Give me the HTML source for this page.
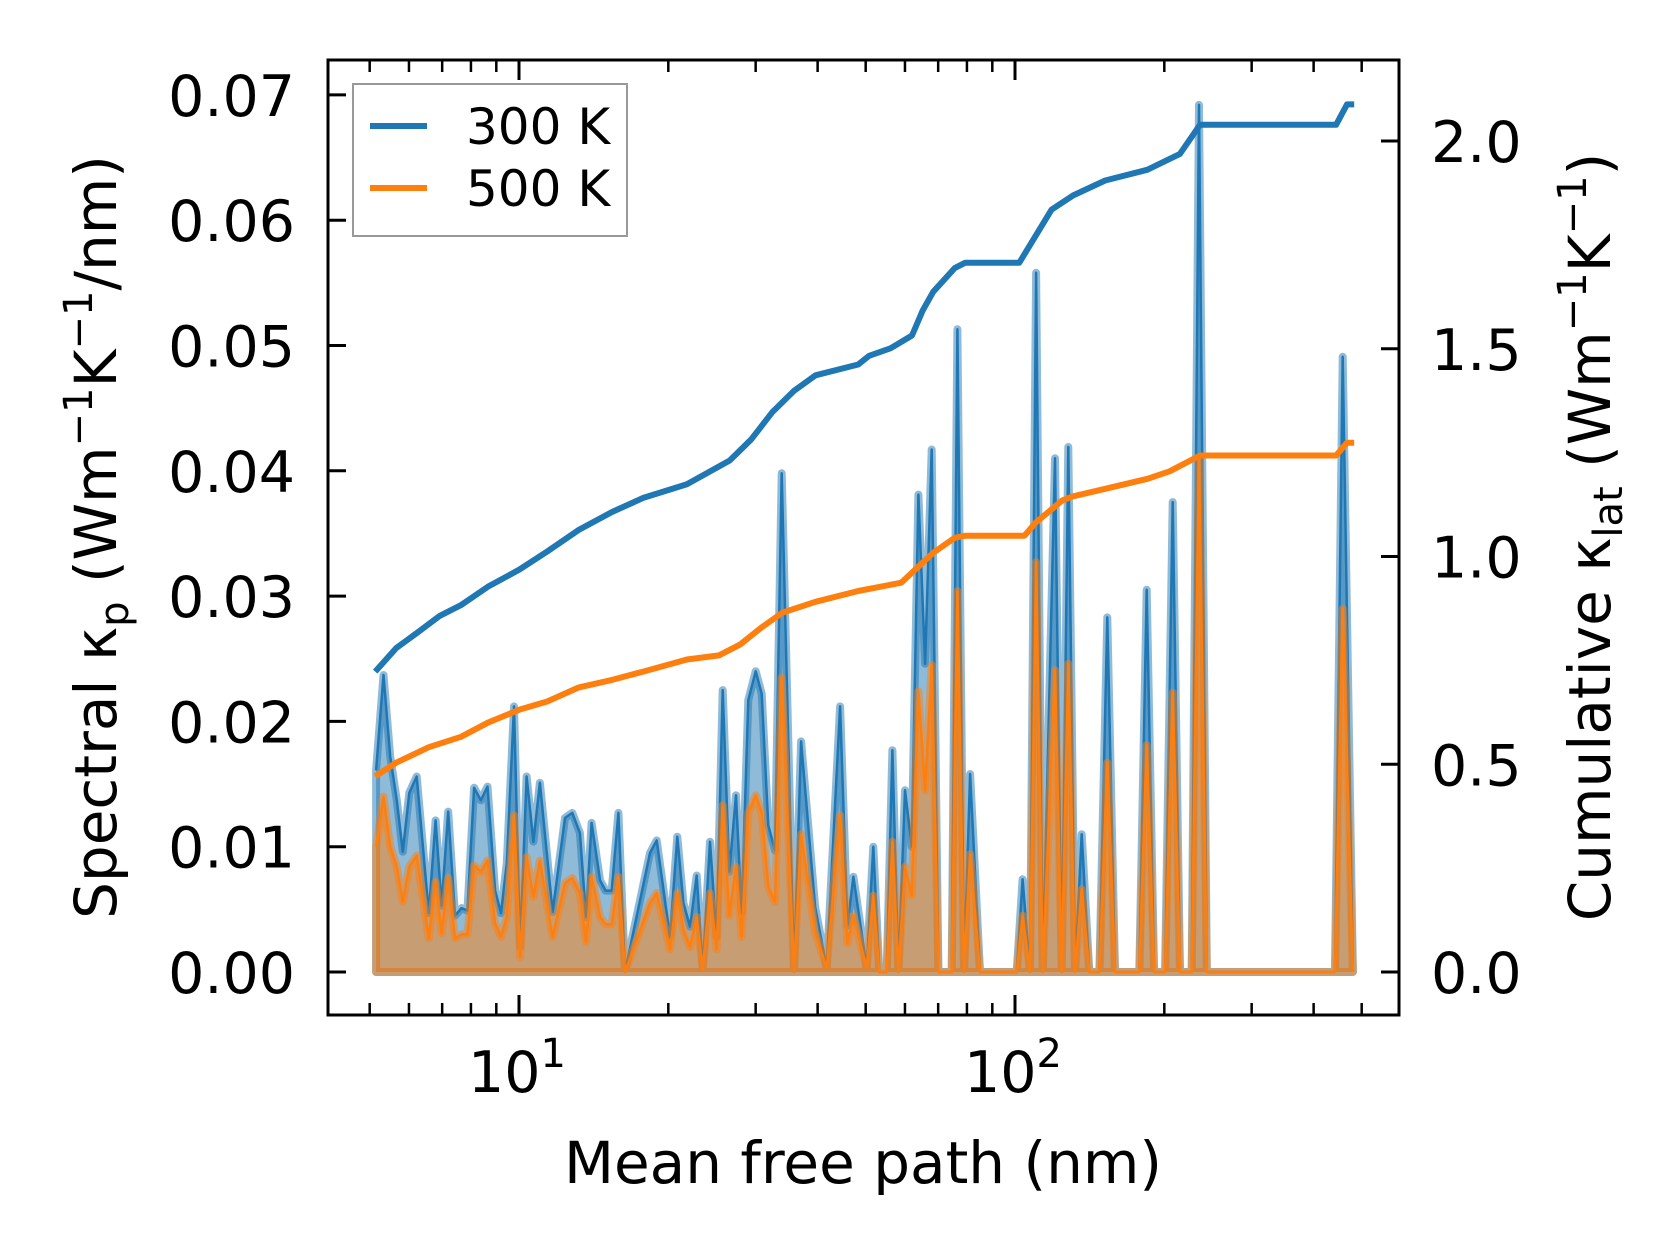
<!DOCTYPE html>
<html><head><meta charset="utf-8"><style>
html,body{margin:0;padding:0;background:#fff}
svg{display:block;font-family:"DejaVu Sans","Liberation Sans",sans-serif}
</style></head><body>
<svg id="chart" width="1679" height="1254" viewBox="0 0 1679 1254" xmlns="http://www.w3.org/2000/svg">
<rect width="1679" height="1254" fill="#fff"/>
<g id="plot"></g>
<g id="axes"></g>
</svg>
<script>
// ---- data ----
const specMfp = [5.15,5.33,5.50,5.67,5.83,6.01,6.22,6.58,6.79,6.98,7.20,7.43,7.66,7.87,8.12,8.38,8.64,8.95,9.20,9.45,9.77,10.05,10.36,10.69,11.02,11.69,12.38,12.81,13.27,13.65,14.01,14.57,14.95,15.38,15.86,16.36,18.37,18.95,20.16,20.85,21.45,22.13,22.82,23.46,24.27,25.03,25.74,26.55,27.38,28.11,29.00,30.00,30.85,31.82,32.82,33.85,35.85,37.04,39.54,41.73,44.39,45.92,47.22,50.23,51.81,53.27,55.12,56.59,58.19,60.02,61.91,63.86,65.87,67.93,70.08,74.55,76.53,78.93,81.18,85.0,100.8,103.6,107.2,110.3,113.7,120.4,124.2,128.1,132.1,136.3,141.2,148.0,153.5,159.1,178.1,184.3,190.7,200.7,207.9,215.1,227.1,235.0,243.6,441.8,457.9,480];
const spec300 = [0.0161,0.0237,0.0172,0.0137,0.0096,0.0143,0.0156,0.0047,0.0121,0.0053,0.0128,0.0045,0.0051,0.0049,0.0147,0.0137,0.0148,0.0065,0.0047,0.0087,0.0212,0.0020,0.0156,0.0104,0.0151,0.0048,0.0123,0.0127,0.0111,0.0044,0.0119,0.0073,0.0065,0.0065,0.0127,0.0,0.0095,0.0105,0.0028,0.0108,0.0055,0.0036,0.0077,0.0002,0.0104,0.0028,0.0225,0.0080,0.0141,0.0047,0.0217,0.0240,0.0222,0.0117,0.0097,0.0398,0.0,0.0184,0.0052,0.0003,0.0212,0.0037,0.0076,0.0003,0.0100,0.0,0.0,0.0177,0.0,0.0145,0.0100,0.0381,0.0246,0.0417,0.0,0.0,0.0513,0.0,0.0158,0.0,0.0,0.0074,0.0,0.0558,0.0,0.0410,0.0,0.0419,0.0,0.0110,0.0,0.0,0.0283,0.0,0.0,0.0305,0.0,0.0,0.0375,0.0,0.0,0.0692,0.0,0.0,0.0491,0.0];
const spec500 = [0.0100,0.0140,0.0100,0.0084,0.0056,0.0084,0.0093,0.0027,0.0072,0.0031,0.0075,0.0027,0.0030,0.0030,0.0085,0.0080,0.0089,0.0039,0.0028,0.0044,0.0125,0.0012,0.0092,0.0060,0.0089,0.0028,0.0071,0.0075,0.0063,0.0024,0.0076,0.0044,0.0038,0.0038,0.0076,0.0,0.0055,0.0063,0.0018,0.0063,0.0034,0.0020,0.0044,0.0002,0.0063,0.0018,0.0133,0.0045,0.0084,0.0028,0.0127,0.0141,0.0127,0.0068,0.0056,0.0235,0.0,0.0110,0.0032,0.0003,0.0125,0.0023,0.0045,0.0003,0.0061,0.0,0.0,0.0104,0.0,0.0084,0.0061,0.0224,0.0145,0.0245,0.0,0.0,0.0304,0.0,0.0094,0.0,0.0,0.0045,0.0,0.0327,0.0,0.0241,0.0,0.0246,0.0,0.0066,0.0,0.0,0.0167,0.0,0.0,0.0181,0.0,0.0,0.0223,0.0,0.0,0.0410,0.0,0.0,0.0290,0.0];
const cumMfp300 = [5.13,5.66,6.26,6.92,7.64,8.65,10,11.4,13.2,15.4,17.8,21.8,26.6,29.4,32.4,35.8,39.6,48.3,50.8,56.1,62.0,65.1,68.4,75.6,79.4,102,110,118.5,131,152,185,215,236,444,467,483];
const cum300 = [0.723,0.780,0.818,0.857,0.883,0.927,0.968,1.012,1.064,1.107,1.141,1.174,1.231,1.282,1.347,1.398,1.436,1.462,1.483,1.501,1.532,1.591,1.637,1.694,1.707,1.707,1.771,1.835,1.869,1.905,1.931,1.969,2.039,2.039,2.088,2.088];
const cumMfp500 = [5.13,5.66,6.58,7.64,8.65,10,11.4,13.2,15.4,17.8,21.8,25.3,27.9,30.8,34.0,39.6,48.3,59.0,63.5,68.4,75.6,79.4,104.5,110,124.5,131,152,185,205,236,444,467,483];
const cum500 = [0.471,0.504,0.541,0.566,0.600,0.631,0.651,0.685,0.703,0.723,0.752,0.762,0.788,0.829,0.865,0.891,0.917,0.937,0.973,1.009,1.045,1.050,1.050,1.081,1.135,1.145,1.163,1.187,1.205,1.243,1.243,1.274,1.274];
const leftTicks = [0,0.01,0.02,0.03,0.04,0.05,0.06,0.07];
const leftTickLabels = ["0.00","0.01","0.02","0.03","0.04","0.05","0.06","0.07"];
const rightTicks = [0,0.5,1.0,1.5,2.0];
const rightTickLabels = ["0.0","0.5","1.0","1.5","2.0"];
const xMajor = [10,100];
const xMinor = [5,6,7,8,9,20,30,40,50,60,70,80,90,200,300,400,500];

// ---- axes functions ----
const L=328,R=1399,T=60,B=1015;
const X = v => 519 + 496*(Math.log10(v)-1);
const YL = v => 972 - v*12530;
const YR = v => 972 - v*415.5;
const NS="http://www.w3.org/2000/svg";
function mk(tag, attrs, parent){const e=document.createElementNS(NS,tag);for(const k in attrs)e.setAttribute(k,attrs[k]);parent.appendChild(e);return e;}
const plot=document.getElementById('plot'), axes=document.getElementById('axes');

function spectral(vals, color, name){
  let pts=specMfp.map((m,i)=>X(m).toFixed(1)+','+YL(vals[i]).toFixed(1));
  const poly=X(specMfp[0]).toFixed(1)+','+YL(0)+' '+pts.join(' ')+' '+X(specMfp[specMfp.length-1]).toFixed(1)+','+YL(0);
  const f=mk('polygon',{points:poly,fill:color,'fill-opacity':0.5,stroke:color,'stroke-opacity':0.5,'stroke-width':8,'stroke-linejoin':'round'},plot);
  
  
  const l=mk('polyline',{points:pts.join(' '),fill:'none',stroke:color,'stroke-width':2.5,'stroke-linejoin':'round'},plot);
  
  
}
spectral(spec300,'#1f77b4','spectral-300k');
spectral(spec500,'#ff7f0e','spectral-500k');

function cum(mfp, vals, color, name){
  const pts=mfp.map((m,i)=>X(m).toFixed(1)+','+YR(vals[i]).toFixed(1)).join(' ');
  const l=mk('polyline',{points:pts,fill:'none',stroke:color,'stroke-width':6,'stroke-linejoin':'round'},plot);
  
  
}
cum(cumMfp300,cum300,'#1f77b4','cumulative-300k-line');
cum(cumMfp500,cum500,'#ff7f0e','cumulative-500k-line');

// frame
const fr=mk('rect',{x:L,y:T,width:R-L,height:B-T,fill:'none',stroke:'#000','stroke-width':3},axes);


// ticks
leftTicks.forEach((v,i)=>{
  const y=YL(v);
  const t=mk('line',{x1:L,x2:L+18,y1:y,y2:y,stroke:'#000','stroke-width':3},axes);
  
  
  const tx=mk('text',{x:L-33,y:y+21,'font-size':57,'text-anchor':'end',fill:'#000'},axes);
  tx.textContent=leftTickLabels[i];
  
  
});
rightTicks.forEach((v,i)=>{
  const y=YR(v);
  const t=mk('line',{x1:R-18,x2:R,y1:y,y2:y,stroke:'#000','stroke-width':3},axes);
  
  
  const tx=mk('text',{x:R+32,y:y+21,'font-size':57,'text-anchor':'start',fill:'#000'},axes);
  tx.textContent=rightTickLabels[i];
  
  
});
xMajor.forEach((v,i)=>{
  const x=X(v);
  [[B,B-20],[T,T+20]].forEach(p=>{
    const t=mk('line',{x1:x,x2:x,y1:p[0],y2:p[1],stroke:'#000','stroke-width':3},axes);
    
    
  });
  const tx=mk('text',{x:x-2,y:1092,'font-size':57,'text-anchor':'middle',fill:'#000'},axes);
  
  
  const a=mk('tspan',{},tx); a.textContent='10';
  const b=mk('tspan',{dy:-25,'font-size':40},tx); b.textContent=String(Math.round(Math.log10(v)));
});
xMinor.forEach(v=>{
  const x=X(v);
  [[B,B-12],[T,T+12]].forEach(p=>{
    const t=mk('line',{x1:x,x2:x,y1:p[0],y2:p[1],stroke:'#000','stroke-width':2.5},axes);
    
    
  });
});
</script>
<svg style="position:absolute;left:0;top:0" width="1679" height="1254" xmlns="http://www.w3.org/2000/svg" font-family="DejaVu Sans, Liberation Sans, sans-serif">
  <text x="863" y="1183" font-size="58" text-anchor="middle">Mean free path (nm)</text>
  <text transform="translate(116,537) rotate(-90)" font-size="58" text-anchor="middle">Spectral κ<tspan font-size="40" dy="12">p</tspan><tspan dy="-12"> (Wm</tspan><tspan font-size="40" dy="-24">−1</tspan><tspan dy="24">K</tspan><tspan font-size="40" dy="-24">−1</tspan><tspan dy="24">/nm)</tspan></text>
  <text transform="translate(1610,537) rotate(-90)" font-size="58" text-anchor="middle">Cumulative κ<tspan font-size="40" dy="12">lat</tspan><tspan dy="-12"> (Wm</tspan><tspan font-size="40" dy="-24">−1</tspan><tspan dy="24">K</tspan><tspan font-size="40" dy="-24">−1</tspan><tspan dy="24">)</tspan></text>
  <g>
    <rect x="353" y="84" width="274" height="152" fill="#fff" fill-opacity="0.8" stroke="#999" stroke-width="2"/>
    <line x1="370" x2="427" y1="126" y2="126" stroke="#1f77b4" stroke-width="6"/>
    <text x="466" y="144" font-size="50">300 K</text>
    <line x1="370" x2="427" y1="188" y2="188" stroke="#ff7f0e" stroke-width="6"/>
    <text x="466" y="206" font-size="50">500 K</text>
  </g>
</svg>
</body></html>
